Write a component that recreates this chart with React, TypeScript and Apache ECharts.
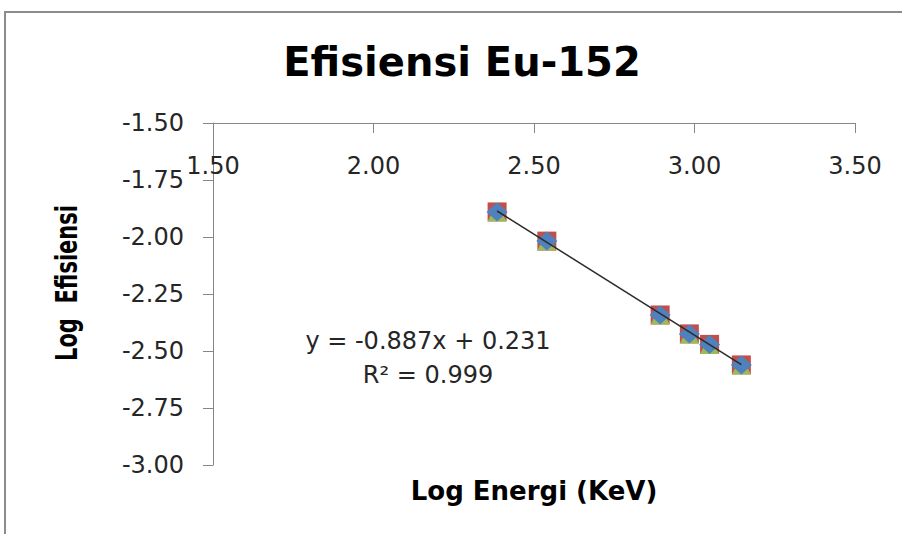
import React, { useEffect, useRef } from "react";
import * as echarts from "echarts";

// Data
const logEnergy = [2.385, 2.54, 2.893, 2.984, 3.047, 3.146];
const logEfficiency = [-1.89, -2.018, -2.342, -2.425, -2.471, -2.561];
const trendX = [2.385, 3.146];
const trendY = [-1.886, -2.56];

const titleText = "Efisiensi Eu-152";
const xAxisTitle = "Log Energi (KeV)";
const yAxisTitle = "Log  Efisiensi";
const equationText = "y = -0.887x + 0.231";
const r2Text = "R\u00B2 = 0.999";

const xRange = [1.5, 3.5];
const yRange = [-3.0, -1.5];
const xStep = 0.5;
const yStep = 0.25;

const pts = logEnergy.map((x, i) => [x, logEfficiency[i]]);
const trend = trendX.map((x, i) => [x, trendY[i]]);

const AXIS_COLOR = "#868686";
const LABEL_COLOR = "#262626";
const FONT = "DejaVu Sans";

export default function App() {
  const ref = useRef<HTMLDivElement>(null);

  useEffect(() => {
    if (!ref.current) return;
    const chart = echarts.init(ref.current, null, { renderer: "svg" });
    chart.setOption({
      animation: false,
      backgroundColor: "#ffffff",
      grid: { left: 213, right: 47, top: 123, bottom: 69, containLabel: false },
      xAxis: {
        type: "value",
        position: "top",
        min: xRange[0],
        max: xRange[1],
        interval: xStep,
        splitLine: { show: false },
        axisLine: { show: true, lineStyle: { color: AXIS_COLOR, width: 1 } },
        axisTick: { show: true, inside: true, length: 10, lineStyle: { color: AXIS_COLOR } },
        axisLabel: {
          inside: true,
          margin: 31,
          color: LABEL_COLOR,
          fontFamily: FONT,
          fontSize: 24,
          formatter: (v: number) => v.toFixed(2),
        },
      },
      yAxis: {
        type: "value",
        min: yRange[0],
        max: yRange[1],
        interval: yStep,
        splitLine: { show: false },
        axisLine: { show: true, lineStyle: { color: AXIS_COLOR, width: 1 } },
        axisTick: { show: true, length: 10, lineStyle: { color: AXIS_COLOR } },
        axisLabel: {
          margin: 29,
          color: LABEL_COLOR,
          fontFamily: FONT,
          fontSize: 24,
          formatter: (v: number) => v.toFixed(2),
        },
      },
      series: [
        {
          type: "scatter",
          data: pts,
          symbol: "rect",
          symbolSize: 19,
          itemStyle: { color: "#C0504D", opacity: 1 },
          z: 2,
          silent: true,
        },
        {
          type: "scatter",
          data: pts,
          symbol: "triangle",
          symbolSize: [19, 19],
          itemStyle: { color: "#9BBB59", opacity: 1 },
          z: 2,
          silent: true,
        },
        {
          type: "scatter",
          data: pts,
          symbol: "diamond",
          symbolSize: [21, 19],
          itemStyle: { color: "#4F81BD", opacity: 1 },
          z: 2,
          silent: true,
        },
        {
          type: "line",
          data: trend,
          showSymbol: false,
          symbol: "none",
          lineStyle: { color: "#2a2a2a", width: 1.5 },
          z: 3,
          silent: true,
        },
      ],
      graphic: [
        {
          type: "rect",
          shape: { x: 5, y: 12, width: 1200, height: 1200 },
          style: { fill: "none", stroke: "#8c8c8c", lineWidth: 2 },
          silent: true,
          z: 0,
        },
        {
          type: "text",
          x: 462,
          y: 62,
          style: {
            text: titleText,
            font: `bold 40px "${FONT}"`,
            fill: "#000000",
            textAlign: "center",
            textVerticalAlign: "middle",
          },
        },
        {
          type: "text",
          x: 534,
          y: 491,
          style: {
            text: xAxisTitle,
            font: `bold 26px "${FONT}"`,
            fill: "#000000",
            textAlign: "center",
            textVerticalAlign: "middle",
          },
        },
        {
          type: "text",
          x: 67,
          y: 283,
          rotation: Math.PI / 2,
          scaleY: 1.45,
          style: {
            text: yAxisTitle,
            font: `bold 21px "${FONT}"`,
            fill: "#000000",
            textAlign: "center",
            textVerticalAlign: "middle",
          },
        },
        {
          type: "text",
          x: 428,
          y: 341,
          style: {
            text: equationText,
            font: `24px "${FONT}"`,
            fill: LABEL_COLOR,
            textAlign: "center",
            textVerticalAlign: "middle",
          },
        },
        {
          type: "text",
          x: 428,
          y: 375,
          style: {
            text: r2Text,
            font: `24px "${FONT}"`,
            fill: LABEL_COLOR,
            textAlign: "center",
            textVerticalAlign: "middle",
          },
        },
      ],
    });
    return () => chart.dispose();
  }, []);

  return (
    <div
      ref={ref}
      style={{ position: "fixed", left: 0, top: 0, width: 902, height: 534, background: "#fff" }}
    />
  );
}
